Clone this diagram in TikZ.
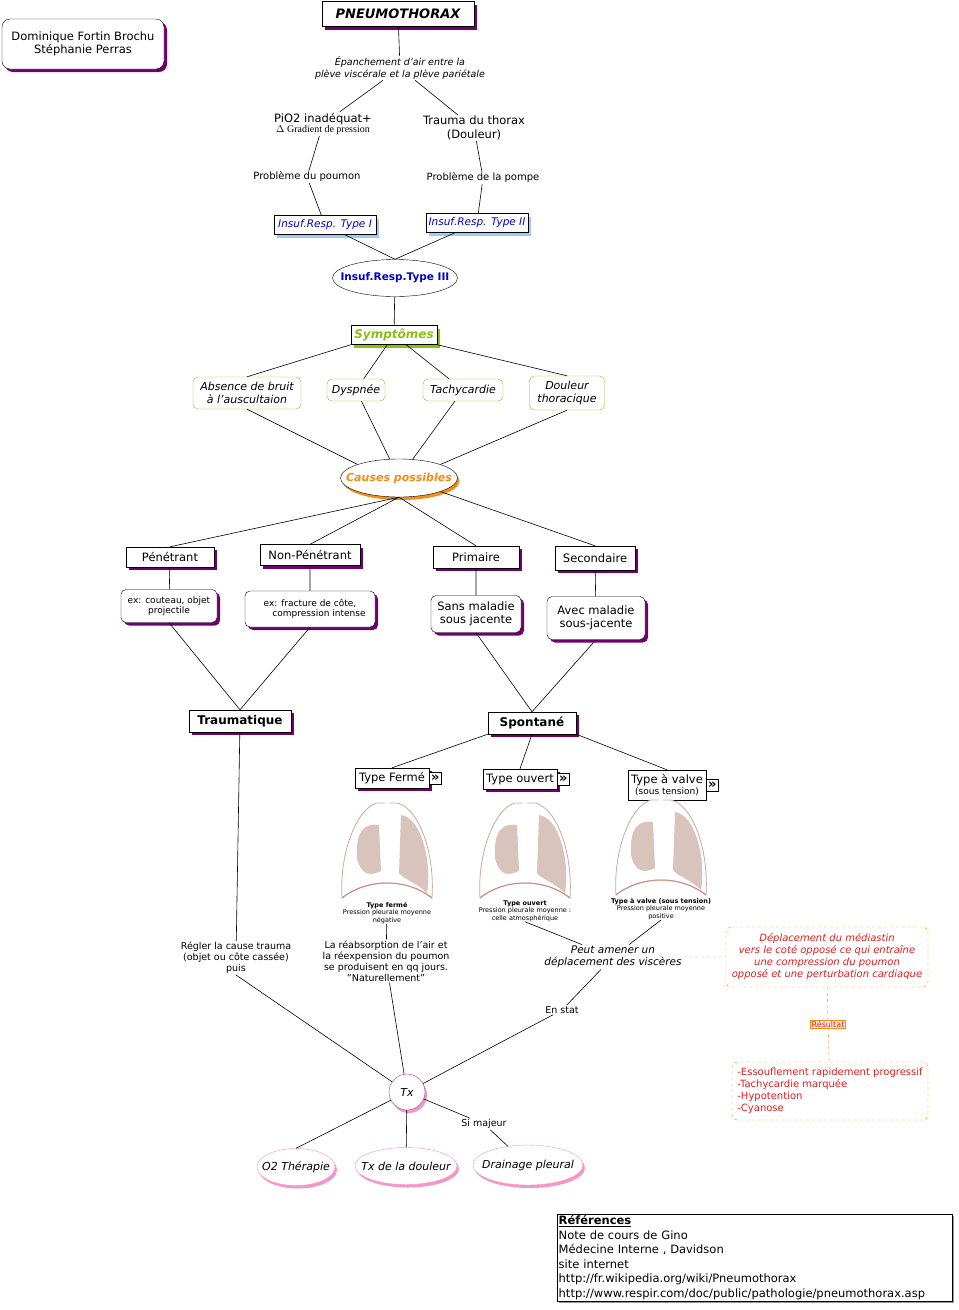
\documentclass[tikz,border=0pt]{standalone}
\usepackage{fontspec}
\setmainfont{DejaVu Sans}
\newfontfamily\tnr{Liberation Serif}
\usetikzlibrary{positioning,shapes.geometric,shadows}
\definecolor{mauve}{RGB}{112,0,112}
\definecolor{bleuc}{RGB}{160,200,250}
\definecolor{vertc}{RGB}{140,190,20}
\definecolor{orangec}{RGB}{245,140,20}
\definecolor{rosec}{RGB}{245,150,200}
\definecolor{rougec}{RGB}{225,30,30}
\definecolor{beige}{RGB}{200,170,160}
\newcommand{\nowidth}[1]{\makebox[0pt]{#1}}
\begin{document}
\begin{tikzpicture}[x=1pt,y=-1pt,font=\fontsize{11.5}{13.5}\selectfont,
  line/.style={line width=0.6pt,black},
  box/.style={draw,fill=white,inner sep=2pt,align=center,drop shadow={fill=mauve,opacity=1,shadow xshift=3pt,shadow yshift=-3pt}},
  rbox/.style={box,rounded corners=5pt},
  bluebox/.style={draw,fill=white,inner sep=2pt,text=blue!80!black,font=\fontsize{10.5}{12}\selectfont\itshape,drop shadow={fill=bleuc,opacity=1,shadow xshift=3pt,shadow yshift=-3pt}},
  symp/.style={draw=vertc,fill=white,rounded corners=5pt,align=center,inner sep=1pt,font=\fontsize{11}{13}\selectfont\itshape},
  lien/.style={align=center,inner sep=1pt,fill=white},
  ovale/.style={ellipse,draw,fill=white,inner sep=0pt},
  tx/.style={ovale,draw=rosec,font=\fontsize{11}{13}\selectfont\itshape,drop shadow={fill=rosec,opacity=1,shadow xshift=2pt,shadow yshift=-3pt}},
  note/.style={draw=orangec,dashed,rounded corners=5pt,fill=white,align=center,inner sep=2pt,text=rougec,font=\fontsize{10}{12}\selectfont}]
\useasboundingbox (0,0) rectangle (959,1310);

% en-tete
\node[rbox,minimum width=162pt,minimum height=50pt,rounded corners=8pt] (auteurs) at (83,44) {Dominique Fortin Brochu\\Stéphanie Perras};
\node[box,minimum width=152pt,minimum height=25pt,font=\fontsize{13}{15}\selectfont\bfseries\itshape] (pneumo) at (398,14) {PNEUMOTHORAX};
\node[lien,font=\fontsize{9.5}{11.5}\selectfont\itshape] (epanch) at (400,68) {Épanchement d'air entre la\\plève viscérale et la plève pariétale};
\node[lien] (pio) at (323,124) {PiO2 inadéquat+\\[-3pt]{\tnr\fontsize{10}{11}\selectfont $\Delta$ Gradient de pression}};
\node[lien] (trauma) at (474,128) {Trauma du thorax\\(Douleur)};
\node[lien,font=\fontsize{10}{12}\selectfont] (poumon) at (307,177) {Problème du poumon};
\node[lien,font=\fontsize{10}{12}\selectfont] (pompe) at (483,178) {Problème de la pompe};
\node[bluebox,minimum width=102pt,minimum height=19pt] (typeI) at (325,225) {Insuf.Resp. Type I};
\node[bluebox,minimum width=102pt,minimum height=19pt] (typeII) at (477,223) {Insuf.Resp. Type II};
\node[ovale,minimum width=125pt,minimum height=37pt,text=blue!80!black,font=\fontsize{10.5}{12}\selectfont\bfseries] (typeIII) at (395,278) {\nowidth{Insuf.Resp.Type III}};

% symptomes
\node[box,minimum width=86pt,minimum height=19pt,inner sep=1pt,text=vertc,font=\fontsize{12}{13}\selectfont\bfseries\itshape,drop shadow={fill=vertc,opacity=1,shadow xshift=3pt,shadow yshift=-3pt}] (symptomes) at (394,335) {Symptômes};
\node[symp,minimum width=108pt,minimum height=32pt] (absence) at (247,393) {Absence de bruit\\à l'auscultaion};
\node[symp,minimum width=58pt,minimum height=22pt] (dyspnee) at (356,390) {Dyspnée};
\node[symp,minimum width=80pt,minimum height=22pt] (tachy) at (463,390) {Tachycardie};
\node[symp,minimum width=75pt,minimum height=34pt] (douleur) at (567,393) {Douleur\\thoracique};
\node[ovale,minimum width=117pt,minimum height=38pt,text=orangec,font=\fontsize{11}{13}\selectfont\bfseries\itshape,drop shadow={fill=orangec,opacity=1,shadow xshift=2pt,shadow yshift=-3pt}] (causes) at (399,478) {\nowidth{Causes possibles}};

% causes
\node[box,minimum width=88pt,minimum height=20pt] (penetrant) at (170,557) {Pénétrant};
\node[box,minimum width=100pt,minimum height=21pt] (nonpen) at (310,555) {Non-Pénétrant};
\node[box,minimum width=86pt,minimum height=22pt] (primaire) at (476,557) {Primaire};
\node[box,minimum width=80pt,minimum height=24pt] (secondaire) at (595,558) {Secondaire};
\node[rbox,minimum width=96pt,minimum height=33pt,inner sep=1pt,font=\fontsize{9}{10.5}\selectfont] (exA) at (169,606) {ex: couteau, objet\\projectile};
\node[rbox,minimum width=130pt,minimum height=36pt,inner sep=1pt,font=\fontsize{9}{10.5}\selectfont] (exB) at (310,609) {ex: fracture de côte,\\\hspace*{18pt}compression intense};
\node[rbox,minimum width=90pt,minimum height=37pt,inner sep=1pt] (sans) at (476,614) {Sans maladie\\sous jacente};
\node[rbox,minimum width=98pt,minimum height=43pt,inner sep=1pt] (avec) at (596,618) {Avec maladie\\sous-jacente};
\node[box,minimum width=102pt,minimum height=22pt,font=\fontsize{12}{13}\selectfont\bfseries] (traumatique) at (240,721) {Traumatique};
\node[box,minimum width=88pt,minimum height=22pt,font=\fontsize{12}{13}\selectfont\bfseries] (spontane) at (532,723) {Spontané};

% types
\node[box,minimum width=74pt,minimum height=20pt,inner sep=1pt] (ferme) at (392,778) {Type Fermé};
\node[box,minimum width=74pt,minimum height=20pt,inner sep=1pt] (ouvert) at (520,779) {Type ouvert};
\node[draw,fill=white,minimum width=78pt,minimum height=30pt,align=center,inner sep=1pt] (valve) at (667,785) {Type à valve\\[-2pt]{\fontsize{9}{10}\selectfont (sous tension)}};
\foreach \n in {ferme,ouvert,valve}
  \node[draw,fill=white,inner sep=0.5pt,minimum size=12pt,font=\fontsize{13}{13}\selectfont\bfseries,anchor=west] at (\n.east) {»};

% poumons
\foreach \cx/\cy in {387/853,525/853,661/850}{
  \begin{scope}[shift={(\cx,\cy)}]
    \draw[beige,fill=white,line width=0.8pt] (-45,45) .. controls (-48,0) and (-30,-45) .. (-10,-50) -- (10,-50) .. controls (32,-45) and (48,0) .. (45,45) .. controls (20,25) and (-20,25) .. (-45,45);
    \draw[beige!80!red,line width=1pt] (-45,45) .. controls (-20,25) and (20,25) .. (45,45);
    \fill[beige!70] (-30,5) .. controls (-32,-25) and (-20,-30) .. (-8,-28) -- (-6,18) .. controls (-15,22) and (-25,25) .. (-30,5);
    \fill[beige!70] (14,-38) .. controls (35,-35) and (45,10) .. (40,40) .. controls (30,30) and (15,25) .. (12,20) -- cycle;
    \draw[white,line width=4pt] (0,-55) -- (0,-20);
  \end{scope}}
\node[align=center,inner sep=0pt,font=\fontsize{6.5}{7.5}\selectfont] (capF) at (387,913) {\textbf{Type fermé}\\Pression pleurale moyenne\\négative};
\node[align=center,inner sep=0pt,font=\fontsize{6.5}{7.5}\selectfont] (capO) at (525,911) {\textbf{Type ouvert}\\Pression pleurale moyenne :\\celle atmosphérique};
\node[align=center,inner sep=0pt,font=\fontsize{6.5}{7.5}\selectfont] (capV) at (661,909) {\textbf{Type à valve (sous tension)}\\Pression pleurale moyenne\\positive};

% traitement
\node[lien,font=\fontsize{9.5}{11}\selectfont] (regler) at (236,958) {Régler la cause trauma\\(objet ou côte cassée)\\puis};
\node[lien,font=\fontsize{9.5}{11}\selectfont] (reabs) at (386,961) {La réabsorption de l'air et\\la réexpension du poumon\\se produisent en qq jours.\\"Naturellement"};
\node[lien,font=\fontsize{10.5}{12.5}\selectfont\itshape] (peut) at (613,957) {Peut amener un\\déplacement des viscères};
\node[lien,font=\fontsize{9.5}{11}\selectfont] (enstat) at (562,1010) {En stat};
\node[note,minimum width=202pt,minimum height=60pt] (deplac) at (827,957) {\itshape Déplacement du médiastin\\\itshape vers le coté opposé ce qui entraîne\\\itshape une compression du poumon\\\itshape opposé et une perturbation cardiaque};
\node[draw=orangec,fill=orange!15,text=rougec,inner sep=1pt,font=\fontsize{8}{9}\selectfont] (resultat) at (828,1024) {Résultat};
\node[note,minimum width=196pt,minimum height=58pt,align=left] (signes) at (830,1091) {-Essouflement rapidement progressif\\-Tachycardie marquée\\-Hypotention\\-Cyanose};
\node[circle,draw=mauve!60!rosec,fill=white,minimum size=36pt,inner sep=0pt,font=\fontsize{11}{13}\selectfont\itshape,drop shadow={fill=rosec,opacity=1,shadow xshift=2pt,shadow yshift=-3pt}] (tx) at (407,1092) {Tx};
\node[lien,font=\fontsize{9.5}{11}\selectfont] (simajeur) at (484,1124) {Si majeur};
\node[tx,minimum width=78pt,minimum height=37pt] (oxy) at (296,1167) {\nowidth{O2 Thérapie}};
\node[tx,minimum width=102pt,minimum height=37pt] (txdoul) at (406,1166) {\nowidth{Tx de la douleur}};
\node[tx,minimum width=110pt,minimum height=40pt] (drain) at (528,1165) {\nowidth{Drainage pleural}};

% references
\node[draw,fill=white,anchor=north west,align=left,inner sep=1.5pt,text width=392pt,font=\fontsize{11.5}{14.5}\selectfont,drop shadow={fill=black!40,opacity=1,shadow xshift=2pt,shadow yshift=-2pt}] (refs) at (557,1214) {\textbf{\underline{Références}}\\Note de cours de Gino\\Médecine Interne , Davidson\\site internet\\http://fr.wikipedia.org/wiki/Pneumothorax\\http://www.respir.com/doc/public/pathologie/pneumothorax.asp};

% liens
\draw[line] (pneumo) -- (epanch) (epanch) -- (pio) (epanch) -- (trauma)
  (pio) -- (poumon) (trauma) -- (pompe) (poumon) -- (typeI) (pompe) -- (typeII)
  (typeI) -- (typeIII.north) (typeII) -- (typeIII.north) (typeIII) -- (symptomes);
\draw[line] (symptomes.south west) -- (absence.north) (symptomes) -- (dyspnee) (symptomes) -- (tachy) (symptomes.south east) -- (douleur.north)
  (absence.south) -- (causes.north west) (dyspnee) -- (causes) (tachy) -- (causes) (douleur.south) -- (causes.north east)
  (causes.south) -- (penetrant.north) (causes.south) -- (nonpen.north) (causes.south) -- (primaire.north) (causes.south east) -- (secondaire.north)
  (penetrant) -- (exA) (nonpen) -- (exB) (primaire) -- (sans) (secondaire) -- (avec)
  (exA.south) -- (traumatique.north) (exB.south) -- (traumatique.north) (sans.south) -- (spontane.north) (avec.south) -- (spontane.north)
  (spontane.south west) -- (ferme.north) (spontane.south) -- (ouvert.north) (spontane.south east) -- (valve.north)
  (traumatique) -- (regler) (capF) -- (reabs) (capO.south) -- (peut) (capV.south) -- (peut)
  (regler.south) -- (tx) (reabs) -- (tx) (peut) -- (enstat) (enstat) -- (tx)
  (tx) -- (oxy.north) (tx) -- (txdoul) (tx) -- (simajeur) (simajeur) -- (drain);
\draw[orangec,dashed] (peut) -- (deplac) (deplac) -- (resultat) (resultat) -- (signes);
\end{tikzpicture}
\end{document}
